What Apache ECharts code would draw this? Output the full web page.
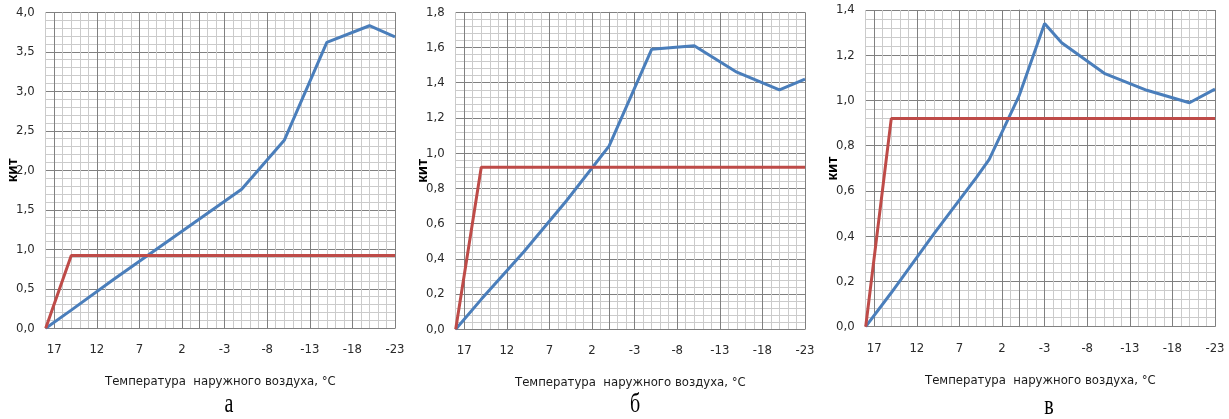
<!DOCTYPE html>
<html>
<head>
<meta charset="utf-8">
<script src="https://cdn.jsdelivr.net/npm/echarts@6/dist/echarts.min.js"></script>
<style>
html,body{margin:0;padding:0;background:#fff;}
#c{width:1229px;height:419px;}
</style>
</head>
<body>
<div id="c"></div>
<script>
// Panel а
const tempA = [18, 15, 10, 5, 0, -5, -10, -15, -20, -23];
const kitA  = [0, 0.23, 0.62, 1.00, 1.38, 1.76, 2.38, 3.62, 3.83, 3.69];
// Panel б
const tempB = [18, 15, 10, 5, 0, -5, -10, -15, -20, -23];
const kitB  = [0, 0.17, 0.44, 0.73, 1.04, 1.59, 1.61, 1.46, 1.36, 1.42];
// Panel в
const tempV = [18, 15, 10, 5, 3.5, 0, -3, -5, -10, -15, -20, -23];
const kitV  = [0, 0.15, 0.41, 0.66, 0.74, 1.02, 1.34, 1.255, 1.12, 1.045, 0.99, 1.05];
// Red (reference) line, same in all panels
const tempRed = [18, 15, -23];
const kitRed  = [0, 0.92, 0.92];

const captions = ['а', 'б', 'в'];
const yMax = [4.0, 1.8, 1.4];
const yStep = [0.1, 0.04, 0.04];   // minor grid step
const yMajor = [0.5, 0.2, 0.2];    // labelled step
const xTitle = 'Температура  наружного воздуха, °С';
const yTitle = 'кит';

const FONT = "'Liberation Sans Narrow', 'DejaVu Sans Condensed', 'Liberation Sans', sans-serif";
const MAJOR = '#808080', MINOR = '#cbcbcb';
const BLUE = '#4a7ebb', RED = '#be4b48';

const gridPos = [
  {left: 45.7, top: 12.3, width: 349.3, height: 316},
  {left: 455.7, top: 12.3, width: 349.3, height: 317},
  {left: 865.7, top: 10, width: 349.3, height: 316.7}
];
const capPos = [[229, 405], [635, 405], [1049, 407]];

const pairs = (xs, ys) => xs.map((x, i) => [x, ys[i]]);
const blueData = [pairs(tempA, kitA), pairs(tempB, kitB), pairs(tempV, kitV)];
const redData = pairs(tempRed, kitRed);

const grids = [], xAxes = [], yAxes = [], series = [], graphics = [];
for (let p = 0; p < 3; p++) {
  grids.push(Object.assign({containLabel: false, outerBoundsMode: 'none'}, gridPos[p]));
  xAxes.push({
    type: 'value', gridIndex: p, min: -23, max: 18, interval: 1, inverse: true,
    name: xTitle, nameLocation: 'middle', nameGap: 47, nameMoveOverlap: false,
    nameTextStyle: {fontFamily: FONT, fontSize: 13, color: '#1a1a1a'},
    axisLine: {show: true, lineStyle: {color: MAJOR, width: 1}},
    axisTick: {show: false},
    axisLabel: {
      margin: 15, fontFamily: FONT, fontSize: 13, color: '#2a2a2a',
      formatter: v => (Math.round(17 - v) % 5 === 0 && v <= 17) ? String(Math.round(v)) : ''
    },
    splitLine: {show: true, lineStyle: {color: [MAJOR, MINOR, MINOR, MINOR, MINOR], width: 1}}
  });
  const step = yStep[p], maj = yMajor[p];
  yAxes.push({
    type: 'value', gridIndex: p, min: 0, max: yMax[p], interval: step,
    name: yTitle, nameLocation: 'middle', nameGap: 25, nameMoveOverlap: false,
    nameTextStyle: {fontFamily: "'Liberation Sans', Arial, sans-serif", fontSize: 15, fontWeight: 'bold', color: '#000'},
    axisLine: {show: true, lineStyle: {color: MAJOR, width: 1}},
    axisTick: {show: false},
    axisLabel: {
      margin: 11, fontFamily: FONT, fontSize: 13, color: '#2a2a2a',
      formatter: v => (Math.abs(v / maj - Math.round(v / maj)) < 1e-6) ? v.toFixed(1).replace('.', ',') : ''
    },
    splitLine: {show: true, lineStyle: {color: [MAJOR, MINOR, MINOR, MINOR, MINOR], width: 1}}
  });
  series.push({
    type: 'line', xAxisIndex: p, yAxisIndex: p, data: blueData[p],
    symbol: 'none', lineStyle: {color: BLUE, width: 3}, itemStyle: {color: BLUE}, z: 3
  });
  series.push({
    type: 'line', xAxisIndex: p, yAxisIndex: p, data: redData,
    symbol: 'none', lineStyle: {color: RED, width: 3}, itemStyle: {color: RED}, z: 4
  });
  graphics.push({
    type: 'text', x: capPos[p][0], y: capPos[p][1], scaleY: 1.4,
    style: {text: captions[p], fontFamily: "'Liberation Serif', 'Times New Roman', serif", fontSize: 20,
            fill: '#000', align: 'center', verticalAlign: 'middle'}
  });
}

const chart = echarts.init(document.getElementById('c'), null, {renderer: 'canvas'});
chart.setOption({
  animation: false,
  backgroundColor: '#fff',
  grid: grids, xAxis: xAxes, yAxis: yAxes, series: series,
  graphic: graphics
});
</script>
</body>
</html>
